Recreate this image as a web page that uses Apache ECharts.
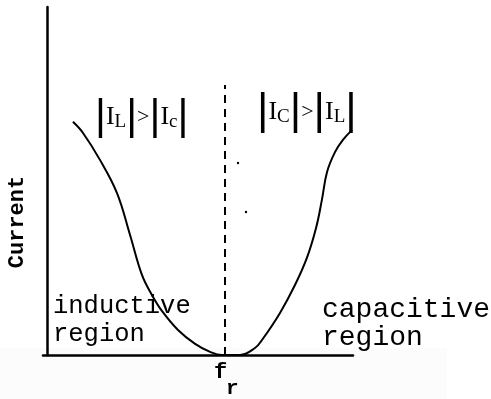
<!DOCTYPE html>
<html>
<head>
<meta charset="utf-8">
<script src="https://cdn.jsdelivr.net/npm/echarts@6/dist/echarts.min.js"></script>
<style>
  html, body { margin: 0; padding: 0; background: #ffffff; }
  #chart { width: 491px; height: 399px; }
</style>
</head>
<body>
<div id="chart"></div>
<script>
// Resonance curve: current versus frequency, minimum at the resonant frequency f_r
const freq    = [8.3, 11.6, 17.2, 22.7, 27.0, 30.9, 34.2, 37.5, 42.7, 48.3, 53.2, 57.1, 63.0, 67.9, 70.2, 76.1, 81.0, 84.9, 87.9, 89.8, 91.5, 94.1, 96.7, 99.7];
const current = [67.0, 63.8, 56.0, 46.6, 34.5, 23.0, 17.2, 12.6, 7.2, 3.2, 0.9, 0.0, 0.0, 2.0, 4.3, 12.1, 20.1, 27.9, 36.5, 44.5, 52.6, 58.3, 61.8, 64.7];
const resonantFreq = 58.1;
const resonanceMarkTop = 77.6;
const axisTitle = 'Current';
const leftRegion = 'inductive\nregion';
const rightRegion = 'capacitive\nregion';

const mono = '"Liberation Mono", "DejaVu Sans Mono", monospace';
const serif = '"Liberation Serif", "DejaVu Serif", serif';
const sans = '"Liberation Sans", sans-serif';
const chart = echarts.init(document.getElementById('chart'));

chart.setOption({
  animation: false,
  backgroundColor: '#ffffff',
  grid: { left: 43, right: 138, top: 7, bottom: 44 },
  xAxis: {
    type: 'value', min: -1.5, max: 100,
    axisLine: { onZero: false, lineStyle: { color: '#000', width: 2.5 } },
    axisTick: { show: false }, axisLabel: { show: false }, splitLine: { show: false }
  },
  yAxis: {
    type: 'value', min: 0, max: 100,
    axisLine: { show: true, onZero: true, lineStyle: { color: '#000', width: 2.5 } },
    axisTick: { show: false }, axisLabel: { show: false }, splitLine: { show: false }
  },
  series: [{
    type: 'line',
    data: freq.map((f, i) => [f, current[i]]),
    smooth: 0.4,
    showSymbol: false,
    lineStyle: { color: '#000', width: 2 },
    markLine: {
      silent: true,
      symbol: 'none',
      label: { show: false },
      lineStyle: { color: '#000', width: 2, type: [8, 6] },
      data: [[{ coord: [resonantFreq, 0] }, { coord: [resonantFreq, resonanceMarkTop] }]]
    }
  }]
});

const frPx = chart.convertToPixel({ xAxisIndex: 0, yAxisIndex: 0 }, [resonantFreq, 0]);

// magnitude comparison labels: large bars, serif letters, small subscripts
function magnitudeRich(barSize) {
  return {
    b: { font: barSize + 'px ' + sans, fill: '#000' },
    n: { font: '26px ' + serif, fill: '#000' },
    g: { font: '22px ' + serif, fill: '#000' },
    s: { font: '19px ' + serif, fill: '#000', padding: [10, 0, 0, 0] }
  };
}

chart.setOption({
  graphic: [
    { type: 'rect', z: -1, shape: { x: 0, y: 348, width: 447, height: 51 }, style: { fill: '#fcfcfc' } },
    { type: 'circle', shape: { cx: 238, cy: 163, r: 1.2 }, style: { fill: '#000' } },
    { type: 'circle', shape: { cx: 246, cy: 212, r: 1.2 }, style: { fill: '#000' } },
    {
      type: 'text', x: 17, y: 222, rotation: Math.PI / 2,
      style: { text: axisTitle, font: 'bold 22px ' + mono, fill: '#000', align: 'center', verticalAlign: 'middle' }
    },
    {
      type: 'text', x: 53, y: 292,
      style: { text: leftRegion, font: '25.5px ' + mono, lineHeight: 28, fill: '#000' }
    },
    {
      type: 'text', x: 322, y: 296,
      style: { text: rightRegion, font: '28px ' + mono, lineHeight: 28, fill: '#000' }
    },
    {
      type: 'text', x: frPx[0] - 11, y: 361,
      style: { text: 'f', font: 'bold 22px ' + mono, fill: '#000' }
    },
    {
      type: 'text', x: frPx[0] + 1, y: 378,
      style: { text: 'r', font: 'bold 21px ' + mono, fill: '#000' }
    },
    {
      type: 'text', x: 95, y: 96,
      style: {
        text: '{b||}{n|I}{s|L}{b||}{g|>}{b||}{n|I}{s|c}{b||}',
        rich: magnitudeRich(42)
      }
    },
    {
      type: 'text', x: 257, y: 90,
      style: {
        text: '{b||}{n|I}{s|C}{b||}{g|>}{b||}{n|I}{s|L}{b||}',
        rich: magnitudeRich(44)
      }
    }
  ]
});
</script>
</body>
</html>
